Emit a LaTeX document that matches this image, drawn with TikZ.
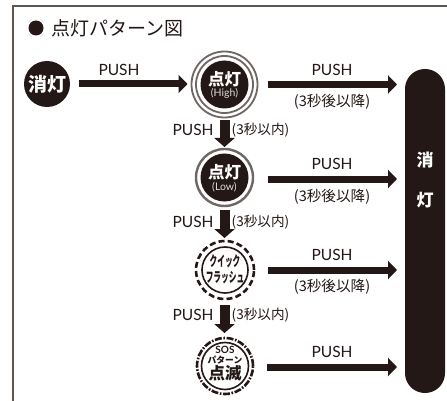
\documentclass[tikz,border=0pt]{standalone}
\usepackage{fontspec}
\setmainfont{Noto Sans CJK JP}
\setsansfont{Lato}
\usetikzlibrary{arrows.meta}
\definecolor{ink}{HTML}{231815}
\definecolor{frameC}{HTML}{5F574F}
\definecolor{ringC}{HTML}{6E6763}
\tikzset{
  x=1pt,y=-1pt,
  arr/.style={draw=ink,line width=7pt,-{Triangle[length=9pt,width=18pt,fill=ink]}},
  varr/.style={draw=ink,line width=10pt,-{Triangle[length=9pt,width=20pt,fill=ink]}},
  lab/.style={inner sep=0pt,text=ink,font=\fontsize{15.5}{16}\selectfont\sffamily},
  sub/.style={inner sep=0pt,text=ink,font=\fontsize{14.6}{15}\selectfont},
  sub2/.style={anchor=west,inner sep=0pt,text=ink,font=\fontsize{13.6}{14}\selectfont},
  disc/.style={circle,fill=ink,inner sep=0pt,outer sep=0pt},
  big/.style={inner sep=0pt,text=white,font=\fontsize{16.5}{17}\selectfont\bfseries},
  tiny/.style={inner sep=0pt,text=white!85!ink,font=\fontsize{10.5}{11}\selectfont\sffamily},
  kana/.style={inner sep=0pt,text=ink,font=\fontsize{14}{14}\selectfont\bfseries},
}
\begin{document}
\begin{tikzpicture}
\useasboundingbox (0,0) rectangle (447,401);
\fill[white] (0,0) rectangle (447,401);
\draw[frameC,line width=2pt] (12.5,401) -- (12.5,6.5) -- (447,6.5);
% title
\node[disc,minimum size=15pt] (bullet) at (36,28) {};
\node[anchor=west,inner sep=0pt,text=ink,font=\fontsize{19}{19}\selectfont] (title) at (51,28) {点灯パターン図};
% off
\node[disc,minimum size=46pt] (off) at (47,84) {};
\node[big,font=\fontsize{19}{19}\selectfont\bfseries] (offt) at (47,84) {消灯};
% high
\node[circle,draw=ringC,line width=1.8pt,fill=white,minimum size=66pt,inner sep=0pt,outer sep=1pt] (high) at (224.5,84.5) {};
\node[circle,draw=ringC,line width=1.8pt,minimum size=57pt,inner sep=0pt] (highm) at (224.5,84.5) {};
\node[disc,minimum size=48pt] (highd) at (224.5,84.5) {};
\node[big] (hight) at (224.5,79.5) {点灯};
\node[tiny] (highs) at (224.5,93) {(High)};
% low
\node[circle,draw=ringC,line width=2.4pt,fill=white,minimum size=57pt,inner sep=0pt,outer sep=1pt] (low) at (224.5,177.5) {};
\node[disc,minimum size=48pt] (lowd) at (224.5,177.5) {};
\node[big] (lowt) at (224.5,172.5) {点灯};
\node[tiny] (lows) at (224.5,187.5) {(Low)};
% quick
\node[circle,draw=ink,line width=2.6pt,dash pattern=on 6pt off 3.2pt,minimum size=58pt,inner sep=0pt,outer sep=1pt] (quick) at (225,270) {};
\node[circle,draw=ink,line width=1.6pt,minimum size=46pt,inner sep=0pt] (quicki) at (225,270) {};
\node[kana] (q1) at (225,261) {\scalebox{.55}[1]{クイック}};
\node[kana] (q2) at (225,277.5) {\scalebox{.55}[1]{フラッシュ}};
% sos
\node[circle,draw=ink,line width=2.6pt,dash pattern=on 7pt off 1.6pt on 1.6pt off 1.6pt,minimum size=56pt,inner sep=0pt,outer sep=1pt] (sos) at (225,366) {};
\node[circle,draw=ink,line width=1.6pt,minimum size=47pt,inner sep=0pt] (sosi) at (225,366) {};
\node[inner sep=0pt,text=ink,font=\fontsize{10}{10}\selectfont\sffamily\bfseries] (s1) at (225,350) {SOS};
\node[inner sep=0pt,text=ink,font=\fontsize{8.8}{9}\selectfont\bfseries] (s2) at (225,360) {パターン};
\node[inner sep=0pt,text=ink,font=\fontsize{16.5}{17}\selectfont\bfseries] (s3) at (225,373.5) {点滅};
% pill
\node[fill=ink,rounded corners=19.9pt,minimum width=40pt,minimum height=324pt,inner sep=0pt,outer sep=0pt] (pill) at (425,231) {};
\node[big,font=\fontsize{17}{17}\selectfont\bfseries] (p1) at (425,160) {消};
\node[big,font=\fontsize{17}{17}\selectfont\bfseries] (p2) at (425,200) {灯};
% arrows
\draw[arr,shorten <=9pt,shorten >=3pt] (off.east) -- (off.east -| high.west);
\draw[arr,shorten <=9pt,shorten >=8pt] (high.east) -- (high.east -| pill.west);
\draw[arr,shorten <=14pt,shorten >=8pt] ([yshift=-1.5pt]low.east) -- ([yshift=-1.5pt]low.east -| pill.west);
\draw[arr,shorten <=13pt,shorten >=8pt] (quick.east) -- (quick.east -| pill.west);
\draw[arr,shorten <=13pt,shorten >=8pt] ([yshift=-1pt]sos.east) -- ([yshift=-1pt]sos.east -| pill.west);
\draw[varr,shorten <=2pt,shorten >=1pt] (high.south) -- (low.north);
\draw[varr,shorten <=3pt,shorten >=2pt] (low.south) -- (quick.north -| low.south);
\draw[varr,shorten <=5pt,shorten >=4pt] (quick.south -| low.south) -- (sos.north -| low.south);
% labels
\node[lab] (l0) at (119,70) {PUSH};
\node[lab] (l1) at (332,70) {PUSH};
\node[lab] (l2) at (332,164) {PUSH};
\node[lab] (l3) at (332,255) {PUSH};
\node[lab] (l4) at (332,352) {PUSH};
\node[sub] (t1) at (332,102) {(3秒後以降)};
\node[sub] (t2) at (332,197) {(3秒後以降)};
\node[sub] (t3) at (332,287) {(3秒後以降)};
\node[lab] (v1) at (193,130) {PUSH};
\node[lab] (v2) at (193,222) {PUSH};
\node[lab] (v3) at (193,315) {PUSH};
\node[sub2] (w1) at (231.5,130) {(3秒以内)};
\node[sub2] (w2) at (231.5,222) {(3秒以内)};
\node[sub2] (w3) at (231.5,315) {(3秒以内)};
\end{tikzpicture}
\end{document}
